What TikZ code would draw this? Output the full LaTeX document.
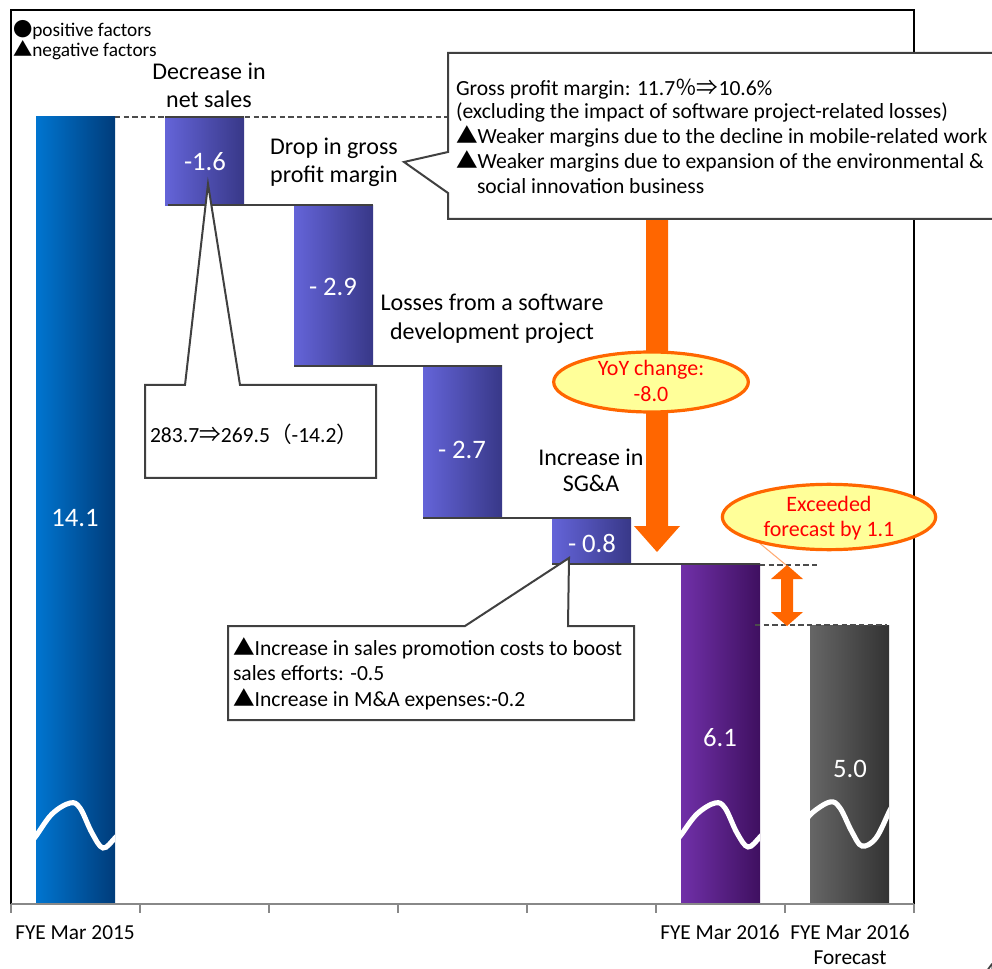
\documentclass[tikz,border=0pt]{standalone}
\usepackage{fontspec}
\setmainfont{Carlito}
\newfontfamily\cjk{Noto Sans CJK JP}
\usetikzlibrary{shapes.geometric}
\definecolor{blueL}{HTML}{0075D0}
\definecolor{blueR}{HTML}{003C7A}
\definecolor{stepL}{HTML}{6464D8}
\definecolor{stepR}{HTML}{383888}
\definecolor{purpL}{HTML}{7030A8}
\definecolor{purpR}{HTML}{3F1060}
\definecolor{grayL}{HTML}{666666}
\definecolor{grayR}{HTML}{333333}
\definecolor{orng}{HTML}{FF6600}
\definecolor{ovalfill}{HTML}{FFFF99}
\definecolor{axisgray}{HTML}{888888}
\begin{document}
\begin{tikzpicture}[x=0.75pt,y=-0.75pt,
  every node/.style={inner sep=0pt,outer sep=0pt},
  lbl/.style={font=\fontsize{18}{21}\selectfont,anchor=base},
  val/.style={font=\fontsize{20}{24}\selectfont,text=white,anchor=base},
  note/.style={font=\fontsize{16.2}{19}\selectfont,anchor=base west},
  legend/.style={font=\fontsize{14.5}{17}\selectfont,anchor=base west},
  ovaltext/.style={font=\fontsize{16.5}{19}\selectfont,text=red,anchor=base},
  axislabel/.style={font=\fontsize{16}{19}\selectfont,anchor=base},
  callout/.style={draw=black!75,line width=1.5pt,fill=white,line join=miter},
  stepline/.style={draw=black!75,line width=1.2pt},
  guide/.style={draw=black!70,line width=1.2pt,dash pattern=on 4pt off 2.5pt},
  wave/.style={draw=white,line width=3.8pt},
  oval/.style={ellipse,draw=orng,line width=2.4pt,fill=ovalfill},
]
\useasboundingbox (0,0) rectangle (992,969);
\clip (0,0) rectangle (992,969);

% plot frame
\draw[black,line width=1.5pt] (11,904) -- (11,10) -- (914,10) -- (914,904);

% bars
\shade[left color=blueL,right color=blueR] (36,117) rectangle (115,904);
\shade[left color=stepL,right color=stepR] (165,117) rectangle (244,206);
\shade[left color=stepL,right color=stepR] (294,206) rectangle (373,366);
\shade[left color=stepL,right color=stepR] (423,366) rectangle (502,518);
\shade[left color=stepL,right color=stepR] (552,518) rectangle (631,563);
\shade[left color=purpL,right color=purpR] (681,563) rectangle (760,904);
\shade[left color=grayL,right color=grayR] (810,625) rectangle (889,904);

% axis break waves
\begin{scope}
  \clip (36,700) rectangle (115,900);
  \draw[wave] plot[smooth,tension=0.6] coordinates {(28,846) (36,836) (52,814) (70,803) (80,808) (92,833) (103,848) (115,838) (122,830)};
\end{scope}
\begin{scope}
  \clip (681,700) rectangle (760,900);
  \draw[wave] plot[smooth,tension=0.6] coordinates {(673,845) (681,835) (697,814) (715,803) (725,808) (737,833) (748,847) (760,837) (767,829)};
\end{scope}
\begin{scope}
  \clip (810,700) rectangle (889,900);
  \draw[wave] plot[smooth,tension=0.6] coordinates {(802,826) (812,813) (830,802) (840,808) (852,832) (862,846) (876,838) (890,810) (896,800)};
\end{scope}

% guide and step lines
\draw[guide] (115,117) -- (450,117);
\draw[stepline] (165,117) -- (244,117);
\draw[stepline] (168,205) -- (373,205);
\draw[stepline] (294,366) -- (502,366);
\draw[stepline] (423,518) -- (631,518);
\draw[stepline] (552,564) -- (760,564);
\draw[guide] (760,565) -- (818,565);
\draw[guide] (755,625) -- (887,625);

% axis
\draw[axisgray,line width=2.2pt] (11,904) -- (914,904);
\foreach \k in {0,...,7}
  \draw[axisgray,line width=1pt] ({11+129*\k},904) -- ({11+129*\k},913);

% bar values
\node[val] (v1) at (75,526) {14.1};
\node[val] (v2) at (205,171) {-1.6};
\node[val] (v3) at (333,296) {- 2.9};
\node[val] (v4) at (462,459) {- 2.7};
\node[val] (v5) at (592,552) {- 0.8};
\node[val] (v6) at (720,746) {6.1};
\node[val] (v7) at (850,777) {5.0};

% step labels
\node[lbl] (l1a) at (209,80) {Decrease in};
\node[lbl] (l1b) at (209,108) {net sales};
\node[lbl] (l2a) at (334,155) {Drop in gross};
\node[lbl] (l2b) at (334,183) {profit margin};
\node[lbl] (l3a) at (492,311) {Losses from a software};
\node[lbl] (l3b) at (492,340) {development project};
\node[lbl] (l4a) at (591,465) {Increase in};
\node[lbl] (l4b) at (591,492) {SG\&A};

% legend
\node[legend] (lg1) at (13,37) {{\cjk ●}positive factors};
\node[legend] (lg2) at (13,57) {{\cjk ▲}negative factors};

% YoY arrow
\fill[orng] (646,210) -- (668,210) -- (668,526) -- (680,526) -- (657,552) -- (634,526) -- (646,526) -- cycle;

% gross margin callout
\draw[callout] (448,53) -- (1000,53) -- (1000,219) -- (448,219) -- (448,193) -- (404,162) -- (448,152) -- cycle;
\node[note] (g1) at (456,96) {Gross profit margin: 11.7{\cjk ％⇒}10.6\%};
\node[note] (g2) at (456,119) {(excluding the impact of software project-related losses)};
\node[note] (g3) at (456,144) {{\cjk ▲}Weaker margins due to the decline in mobile-related work};
\node[note] (g4) at (456,169) {{\cjk ▲}Weaker margins due to expansion of the environmental \&};
\node[note] (g5) at (477,194) {social innovation business};

% net sales callout
\draw[callout] (145,385) -- (185,385) -- (208,184) -- (240,385) -- (376,385) -- (376,478) -- (145,478) -- cycle;
\node[note] (ns) at (150,443) {283.7{\cjk ⇒}269.5{\cjk （}-14.2{\cjk ）}};

% SG&A callout
\draw[callout] (228,626) -- (465,626) -- (569,558) -- (568,626) -- (634,626) -- (634,720) -- (228,720) -- cycle;
\node[note] (s1) at (233,655) {{\cjk ▲}Increase in sales promotion costs to boost};
\node[note] (s2) at (233,680) {sales efforts: -0.5};
\node[note] (s3) at (233,706) {{\cjk ▲}Increase in M\&A expenses:-0.2};

% YoY oval
\node[oval,minimum width=146pt,minimum height=45pt] (yoy) at (651,382) {};
\node[ovaltext] (y1) at (651,376) {YoY change:};
\node[ovaltext] (y2) at (651,402) {-8.0};

% forecast gap arrow
\fill[orng] (787,565) -- (803,579) -- (793,579) -- (793,612) -- (803,612) -- (787,626) -- (771,612) -- (781,612) -- (781,579) -- (771,579) -- cycle;
\coordinate (gaptop) at (786,565);
\coordinate (excfoot) at (757,541);
\draw[orng!55,line width=0.8pt] (excfoot) -- (gaptop);
\node[oval,minimum width=160pt,minimum height=49pt] (exc) at (829,517) {};
\node[ovaltext] (e1) at (829,511) {Exceeded};
\node[ovaltext] (e2) at (829,536) {forecast by 1.1};

% axis labels
\node[axislabel] (a1) at (75,939) {FYE Mar 2015};
\node[axislabel] (a2) at (720,939) {FYE Mar 2016};
\node[axislabel] (a3) at (850,939) {FYE Mar 2016};
\node[axislabel] (a4) at (850,964) {Forecast};

% page number
\node[font=\fontsize{22}{26}\selectfont,text=black!75,anchor=base west] (pg) at (982,982) {4};
\end{tikzpicture}
\end{document}
